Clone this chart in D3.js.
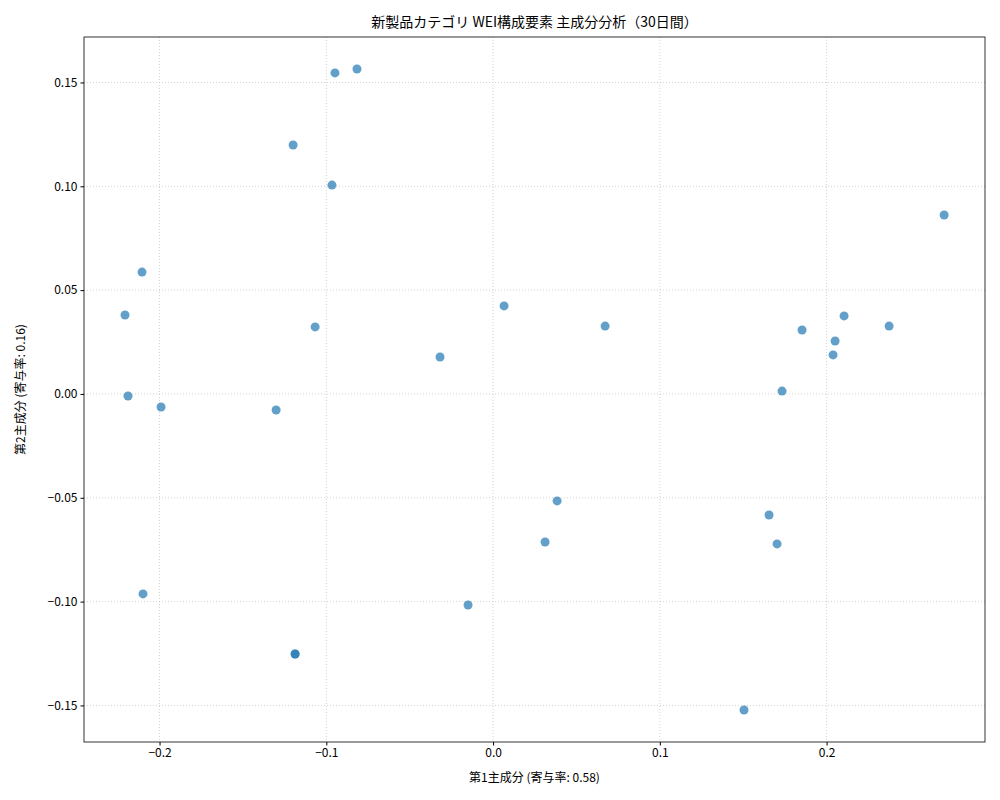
<!DOCTYPE html>
<html><head><meta charset="utf-8">
<script src="https://cdn.jsdelivr.net/npm/d3@7"></script>
<style>body{margin:0;background:#fff}text{font-family:"Noto Sans CJK JP","DejaVu Sans",sans-serif}</style>
</head><body><svg id="c" width="1000" height="800"></svg>
<script>
const pc1 = [0.2705,-0.0816,-0.0948,-0.1199,-0.0966,-0.2105,-0.2207,-0.1067,0.0066,0.0672,-0.0318,-0.2189,-0.1991,-0.1301,0.2105,0.2375,0.1853,0.2051,0.2039,0.1733,0.0384,0.0312,0.1655,0.1703,-0.2099,-0.0150,-0.1187,-0.1187,0.1505];
const pc2 = [0.0862,0.1565,0.1546,0.1199,0.1006,0.0587,0.0380,0.0323,0.0424,0.0327,0.0178,-0.0010,-0.0063,-0.0077,0.0376,0.0327,0.0308,0.0255,0.0188,0.0014,-0.0515,-0.0713,-0.0583,-0.0722,-0.0963,-0.1016,-0.1252,-0.1252,-0.1522];
const xTicks = [-0.2,-0.1,0.0,0.1,0.2];
const yTicks = [-0.15,-0.10,-0.05,0.00,0.05,0.10,0.15];
const title = "新製品カテゴリ WEI構成要素 主成分分析（30日間）";
const xLabel = "第1主成分 (寄与率: 0.58)";
const yLabel = "第2主成分 (寄与率: 0.16)";

const L=84,R=985,T=37,B=742;
const svg=d3.select("#c");
const x=d3.scaleLinear().domain([-0.2453,0.2950]).range([L,R]);
const y=d3.scaleLinear().domain([-0.1676,0.1719]).range([B,T]);
const g=svg.append("g");
g.selectAll(".gx").data(xTicks).join("line").attr("x1",d=>x(d)).attr("x2",d=>x(d)).attr("y1",T).attr("y2",B).attr("stroke","#b0b0b0").attr("stroke-opacity",0.7).attr("stroke-dasharray","1,2").attr("stroke-width",0.8);
g.selectAll(".gy").data(yTicks).join("line").attr("y1",d=>y(d)).attr("y2",d=>y(d)).attr("x1",L).attr("x2",R).attr("stroke","#b0b0b0").attr("stroke-opacity",0.7).attr("stroke-dasharray","1,2").attr("stroke-width",0.8);
const xa=svg.append("g").attr("transform",`translate(0,${B})`).call(d3.axisBottom(x).tickValues(xTicks).tickFormat(d3.format(".1f")).tickSize(3.5).tickSizeOuter(0));
const ya=svg.append("g").attr("transform",`translate(${L},0)`).call(d3.axisLeft(y).tickValues(yTicks).tickFormat(d=>d3.format(".2f")(d).replace("-","−")).tickSize(3.5).tickSizeOuter(0));
xa.selectAll("text").text(d=>d3.format(".1f")(d).replace("-","−"));
[xa,ya].forEach(a=>{a.selectAll("text").attr("font-size",12).attr("fill","#000");a.select(".domain").remove();});
svg.append("rect").attr("x",L).attr("y",T).attr("width",R-L).attr("height",B-T).attr("fill","none").attr("stroke","#000").attr("stroke-width",0.8);
svg.selectAll(".pt").data(pc1.map((v,i)=>[v,pc2[i]])).join("circle").attr("cx",d=>x(d[0])).attr("cy",d=>y(d[1])).attr("r",4.5).attr("fill","#1f77b4").attr("fill-opacity",0.7);
svg.append("text").attr("x",(L+R)/2).attr("y",27).attr("text-anchor","middle").attr("font-size",14).text(title);
svg.append("text").attr("x",(L+R)/2).attr("y",782).attr("text-anchor","middle").attr("font-size",12).text(xLabel);
svg.append("text").attr("transform",`translate(25,${(T+B)/2}) rotate(-90)`).attr("text-anchor","middle").attr("font-size",12).text(yLabel);
</script></body></html>
